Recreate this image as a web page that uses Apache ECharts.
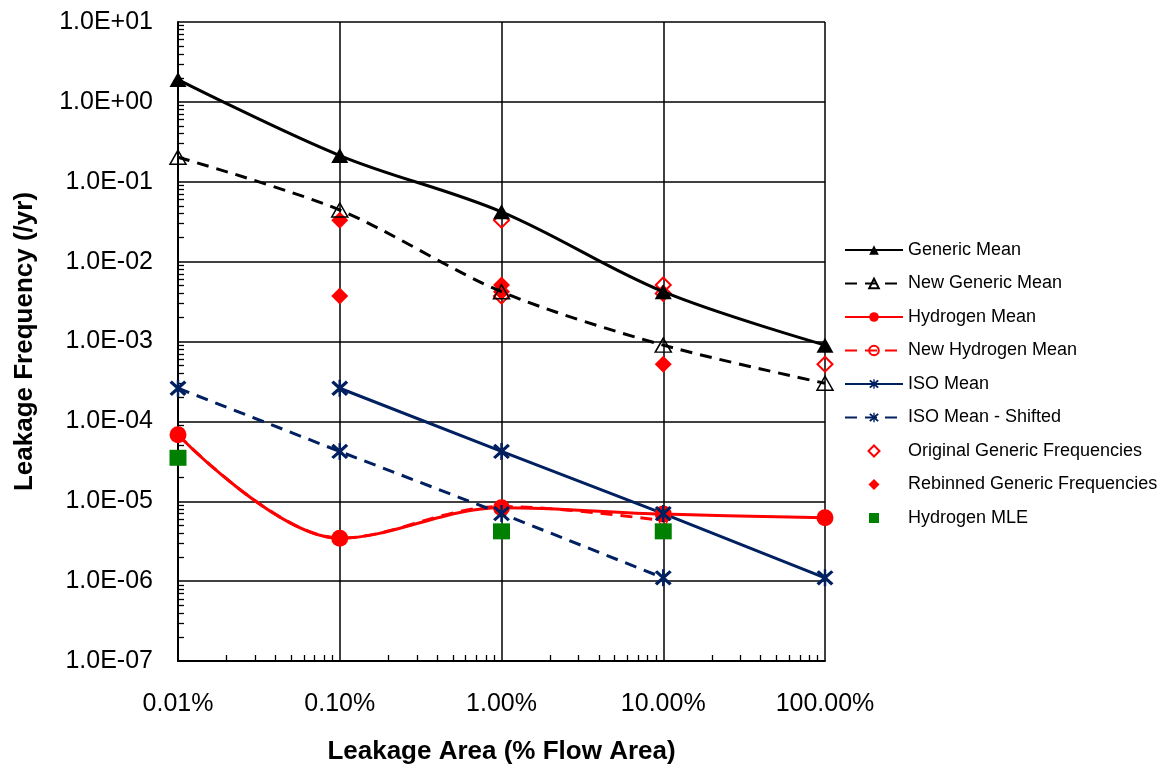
<!DOCTYPE html>
<html>
<head>
<meta charset="utf-8">
<script src="https://cdn.jsdelivr.net/npm/echarts@6/dist/echarts.min.js"></script>
<style>html,body{margin:0;padding:0;background:#fff}#c{width:1172px;height:770px}</style>
</head>
<body>
<div id="c"></div>
<script>
// ---- tick values and labels ----
const xTicks = [1e-4, 1e-3, 1e-2, 1e-1, 1];
const xTickLabels = ['0.01%', '0.10%', '1.00%', '10.00%', '100.00%'];
const yTicks = [1e-7, 1e-6, 1e-5, 1e-4, 1e-3, 1e-2, 1e-1, 1, 10];
const yTickLabels = ['1.0E-07', '1.0E-06', '1.0E-05', '1.0E-04', '1.0E-03', '1.0E-02', '1.0E-01', '1.0E+00', '1.0E+01'];

// ---- series data (x = leakage area fraction, y = frequency /yr) ----
const genericMeanX = [1e-4, 1e-3, 1e-2, 1e-1, 1];
const genericMeanY = [1.9, 0.213, 0.042, 0.0042, 0.0009];
const newGenericMeanX = [1e-4, 1e-3, 1e-2, 1e-1, 1];
const newGenericMeanY = [0.203, 0.0443, 0.0042, 0.0009, 0.0003];
const hydrogenMeanX = [1e-4, 1e-3, 1e-2, 1e-1, 1];
const hydrogenMeanY = [6.8e-5, 3.45e-6, 8.3e-6, 6.9e-6, 6.2e-6];
const newHydrogenMeanX = [1e-4, 1e-3, 1e-2, 1e-1];
const newHydrogenMeanY = [6.8e-5, 3.45e-6, 8.6e-6, 5.7e-6];
const isoMeanX = [1e-3, 1e-2, 1e-1, 1];
const isoMeanY = [2.6e-4, 4.2e-5, 7.0e-6, 1.1e-6];
const isoShiftedX = [1e-4, 1e-3, 1e-2, 1e-1];
const isoShiftedY = [2.6e-4, 4.2e-5, 7.0e-6, 1.1e-6];
const originalGenericX = [1e-2, 1e-2, 1e-1, 1e-1, 1];
const originalGenericY = [0.033, 0.0037, 0.0051, 0.0040, 5.2e-4];
const rebinnedGenericX = [1e-3, 1e-3, 1e-2, 1e-2, 1e-1];
const rebinnedGenericY = [0.033, 0.0037, 0.0051, 0.0042, 5.2e-4];
const hydrogenMleX = [1e-4, 1e-2, 1e-1];
const hydrogenMleY = [3.5e-5, 4.2e-6, 4.2e-6];

// ---- helpers ----
const pairs = (xs, ys) => xs.map((x, i) => [x, ys[i]]);
const minorOf = (majors) => {
  const out = [];
  for (let i = 0; i < majors.length - 1; i++) for (let k = 2; k <= 9; k++) out.push(majors[i] * k);
  return out;
};
const labelFor = (ticks, labels) => (v) => {
  let best = 0, bd = Infinity;
  ticks.forEach((t, i) => { const d = Math.abs(Math.log10(t) - Math.log10(v)); if (d < bd) { bd = d; best = i; } });
  return bd < 1e-6 ? labels[best] : '';
};

const FONT = '"Liberation Sans", Arial, sans-serif';
const NAVY = '#002060';
const RED = '#ff0000';
const GREEN = '#008000';
const STAR = 'path://M1,3.5 L3.5,1 L19,16.5 L16.5,19 Z M16.5,1 L19,3.5 L3.5,19 L1,16.5 Z M8.7,0 L11.3,0 L11.3,20 L8.7,20 Z';
// legend icons for marker-only series (kept small inside the 58x12 legend slot)
const LEG_DIAMOND = 'path://M0,0 M58,12 M29,0.5 L34.5,6 L29,11.5 L23.5,6 Z';
const LEG_SQUARE = 'path://M0,0 M58,12 M24,1 L34,1 L34,11 L24,11 Z';

const chart = echarts.init(document.getElementById('c'), null, { renderer: 'canvas' });

const option = {
  backgroundColor: '#fff',
  animation: false,
  textStyle: { fontFamily: FONT, color: '#000' },
  grid: { left: 178, right: 347, top: 22, bottom: 106, containLabel: false },
  legend: {
    orient: 'vertical',
    left: 839,
    top: 236,
    itemWidth: 58,
    itemHeight: 12,
    itemGap: 15.5,
    symbolKeepAspect: true,
    textStyle: { fontFamily: FONT, fontSize: 18, color: '#000' },
    data: ['Generic Mean', 'New Generic Mean', 'Hydrogen Mean', 'New Hydrogen Mean', 'ISO Mean',
      'ISO Mean - Shifted',
      { name: 'Original Generic Frequencies', icon: LEG_DIAMOND },
      { name: 'Rebinned Generic Frequencies', icon: LEG_DIAMOND },
      { name: 'Hydrogen MLE', icon: LEG_SQUARE }]
  },
  xAxis: [{
    type: 'log', logBase: 10, min: xTicks[0], max: xTicks[xTicks.length - 1], splitNumber: 4,
    name: 'Leakage Area (% Flow Area)', nameLocation: 'middle', nameGap: 78,
    nameTextStyle: { fontFamily: FONT, fontSize: 26, fontWeight: 'bold', color: '#000' },
    axisLine: { show: true, onZero: false, lineStyle: { color: '#000', width: 2 } },
    axisTick: { show: false },
    axisLabel: { fontFamily: FONT, fontSize: 25, color: '#000', margin: 31, formatter: labelFor(xTicks, xTickLabels) },
    splitLine: { show: true, lineStyle: { color: '#000', width: 1.5 } }
  }, {
    type: 'log', logBase: 10, min: xTicks[0], max: xTicks[xTicks.length - 1], position: 'bottom',
    axisLine: { show: false }, axisLabel: { show: false }, splitLine: { show: false },
    axisTick: { show: true, inside: true, length: 6, customValues: minorOf(xTicks), lineStyle: { color: '#000', width: 1.3 } }
  }],
  yAxis: [{
    type: 'log', logBase: 10, min: yTicks[0], max: yTicks[yTicks.length - 1], splitNumber: 8,
    name: 'Leakage Frequency (/yr)', nameLocation: 'middle', nameGap: 140,
    nameTextStyle: { fontFamily: FONT, fontSize: 26, fontWeight: 'bold', color: '#000' },
    axisLine: { show: true, onZero: false, lineStyle: { color: '#000', width: 2 } },
    axisTick: { show: false },
    axisLabel: { fontFamily: FONT, fontSize: 25, color: '#000', margin: 25, formatter: labelFor(yTicks, yTickLabels) },
    splitLine: { show: true, lineStyle: { color: '#000', width: 1.5 } }
  }, {
    type: 'log', logBase: 10, min: yTicks[0], max: yTicks[yTicks.length - 1], position: 'left',
    axisLine: { show: false }, axisLabel: { show: false }, splitLine: { show: false },
    axisTick: { show: true, inside: true, length: 6, customValues: minorOf(yTicks), lineStyle: { color: '#000', width: 1.3 } }
  }],
  series: [
    {
      name: 'Generic Mean', type: 'line', smooth: 0.35, data: pairs(genericMeanX, genericMeanY),
      symbol: 'triangle', symbolSize: [17, 15],
      lineStyle: { color: '#000', width: 3 }, itemStyle: { color: '#000' }
    },
    {
      name: 'New Generic Mean', type: 'line', smooth: 0.3, data: pairs(newGenericMeanX, newGenericMeanY),
      symbol: 'triangle', symbolSize: [16, 14],
      lineStyle: { color: '#000', width: 3, type: [12, 8] },
      itemStyle: { color: 'rgba(255,255,255,0)', borderColor: '#000', borderWidth: 1.5 }
    },
    {
      name: 'Hydrogen Mean', type: 'line', smooth: 0.35, data: pairs(hydrogenMeanX, hydrogenMeanY),
      symbol: 'circle', symbolSize: 17,
      lineStyle: { color: RED, width: 3 }, itemStyle: { color: RED }
    },
    {
      name: 'New Hydrogen Mean', type: 'line', smooth: 0.35, data: pairs(newHydrogenMeanX, newHydrogenMeanY),
      symbol: 'circle', symbolSize: 8, z: 1,
      lineStyle: { color: RED, width: 3, type: [12, 8] },
      itemStyle: { color: 'rgba(255,255,255,0)', borderColor: RED, borderWidth: 1.5 }
    },
    {
      name: 'ISO Mean', type: 'line', data: pairs(isoMeanX, isoMeanY),
      symbol: STAR, symbolSize: 17,
      lineStyle: { color: NAVY, width: 3 }, itemStyle: { color: NAVY }
    },
    {
      name: 'ISO Mean - Shifted', type: 'line', data: pairs(isoShiftedX, isoShiftedY),
      symbol: STAR, symbolSize: 17,
      lineStyle: { color: NAVY, width: 3, type: [12, 8] }, itemStyle: { color: NAVY }
    },
    {
      name: 'Original Generic Frequencies', type: 'scatter', data: pairs(originalGenericX, originalGenericY),
      symbol: 'diamond', symbolSize: 15,
      itemStyle: { color: 'rgba(255,255,255,0)', borderColor: RED, borderWidth: 2, opacity: 1 }
    },
    {
      name: 'Rebinned Generic Frequencies', type: 'scatter', data: pairs(rebinnedGenericX, rebinnedGenericY),
      symbol: 'diamond', symbolSize: 17,
      itemStyle: { color: RED, opacity: 1 }
    },
    {
      name: 'Hydrogen MLE', type: 'scatter', data: pairs(hydrogenMleX, hydrogenMleY),
      symbol: 'rect', symbolSize: [17, 16],
      itemStyle: { color: GREEN, opacity: 1 }
    }
  ]
};
chart.setOption(option);
</script>
</body>
</html>
